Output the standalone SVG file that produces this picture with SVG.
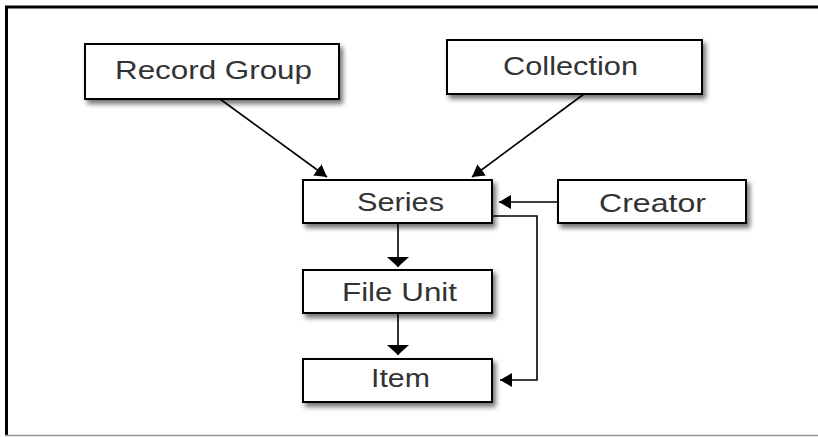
<svg xmlns="http://www.w3.org/2000/svg" width="818" height="437" viewBox="0 0 818 437">
<style>
.box{fill:#fff;stroke:#000;stroke-width:2}
.lbl{font-family:"Liberation Sans",Arial,sans-serif;font-size:25px;fill:#333}
.con{fill:none;stroke:#000;stroke-width:1.6}
</style>
<defs>
<filter id="sh" x="-10%" y="-20%" width="130%" height="160%">
<feDropShadow dx="3" dy="4" stdDeviation="2.5" flood-color="#000" flood-opacity="0.55"/>
</filter>
<marker id="ah" viewBox="0 0 12 14" refX="12" refY="7" markerWidth="12" markerHeight="14" markerUnits="userSpaceOnUse" orient="auto">
<path d="M0,0 L12,7 L0,14 Z" fill="#000"/>
</marker>
<marker id="av" viewBox="0 0 10 22" refX="10" refY="11" markerWidth="10" markerHeight="22" markerUnits="userSpaceOnUse" orient="auto">
<path d="M0,0 L10,11 L0,22 Z" fill="#000"/>
</marker>
</defs>
<rect width="818" height="437" fill="#fff"/>
<g id="frame">
<line x1="5" y1="7" x2="818" y2="7" stroke="#000" stroke-width="3"/>
<line x1="6.5" y1="6" x2="6.5" y2="435" stroke="#000" stroke-width="3"/>
<line x1="5" y1="435.5" x2="818" y2="435.5" stroke="#999" stroke-width="1.5"/>
</g>
<g id="connectors">
<line class="con" x1="220" y1="99" x2="327" y2="177" marker-end="url(#ah)"/>
<line class="con" x1="584" y1="94" x2="472" y2="177" marker-end="url(#ah)"/>
<line class="con" x1="558" y1="202" x2="499" y2="202" marker-end="url(#ah)"/>
<line class="con" x1="398" y1="223" x2="398" y2="267" marker-end="url(#av)"/>
<line class="con" x1="398" y1="313" x2="398" y2="355" marker-end="url(#av)"/>
<polyline class="con" points="492,216 537,216 537,380 500,380" marker-end="url(#ah)"/>
</g>
<g id="record-group">
<rect class="box" x="85" y="44" width="254" height="55" filter="url(#sh)"/>
<text class="lbl" x="115" y="79" textLength="197" lengthAdjust="spacingAndGlyphs">Record Group</text>
</g>
<g id="collection">
<rect class="box" x="447" y="40" width="255" height="54" filter="url(#sh)"/>
<text class="lbl" x="503" y="75" textLength="135" lengthAdjust="spacingAndGlyphs">Collection</text>
</g>
<g id="series">
<rect class="box" x="303" y="180" width="189" height="43" filter="url(#sh)"/>
<text class="lbl" x="357" y="211" textLength="87" lengthAdjust="spacingAndGlyphs">Series</text>
</g>
<g id="creator">
<rect class="box" x="558" y="180" width="188" height="43" filter="url(#sh)"/>
<text class="lbl" x="599" y="212" textLength="107" lengthAdjust="spacingAndGlyphs">Creator</text>
</g>
<g id="file-unit">
<rect class="box" x="303" y="270" width="189" height="43" filter="url(#sh)"/>
<text class="lbl" x="342" y="301" textLength="115" lengthAdjust="spacingAndGlyphs">File Unit</text>
</g>
<g id="item">
<rect class="box" x="303" y="359" width="189" height="43" filter="url(#sh)"/>
<text class="lbl" x="371" y="387" textLength="59" lengthAdjust="spacingAndGlyphs">Item</text>
</g>
</svg>
